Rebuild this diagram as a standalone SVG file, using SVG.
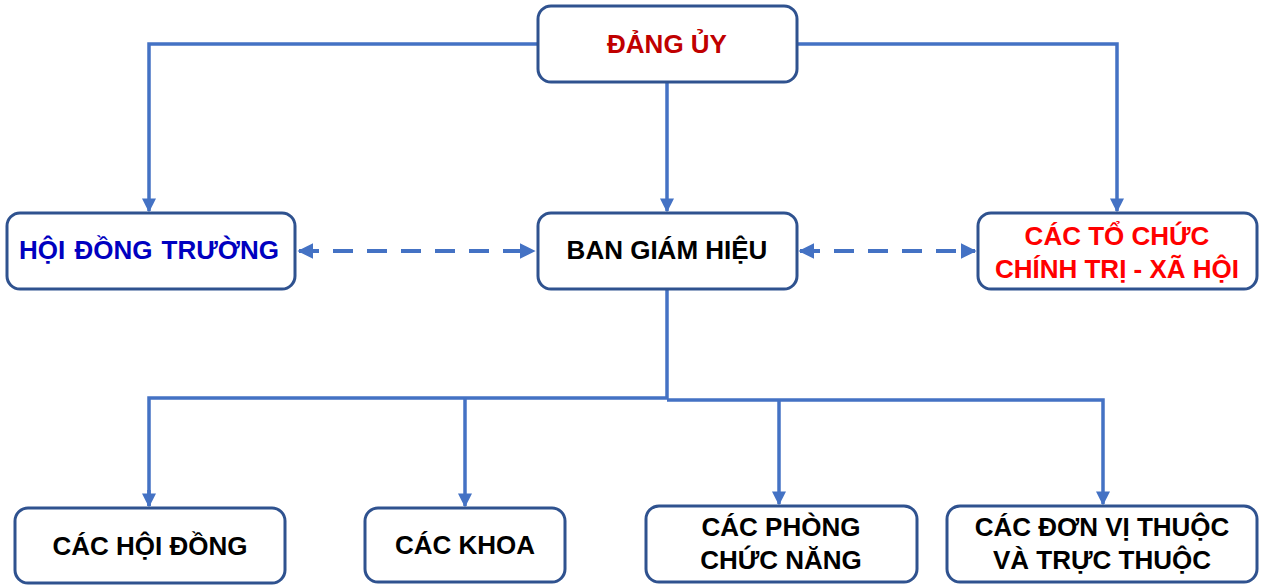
<svg xmlns="http://www.w3.org/2000/svg" width="1262" height="585" viewBox="0 0 1262 585">
<style>
.box{fill:#fff;stroke:#2F528F;stroke-width:3}
.t{font-family:"Liberation Sans",Arial,sans-serif;font-weight:bold;font-size:26px;text-anchor:middle;fill:#000}
.ln{fill:none;stroke:#4472C4;stroke-width:3.5}
.dash{fill:none;stroke:#4472C4;stroke-width:4;stroke-dasharray:20 14}
</style>
<defs>
<marker id="ah" viewBox="0 0 10 10" refX="9" refY="5" markerWidth="4" markerHeight="4" orient="auto-start-reverse">
<path d="M0,0 L10,5 L0,10 z" fill="#4472C4"/>
</marker>
</defs>
<g id="connectors">
<polyline class="ln" points="537,44 149,44 149,211" marker-end="url(#ah)"/>
<polyline class="ln" points="797,44 1117,44 1117,211" marker-end="url(#ah)"/>
<line class="ln" x1="667" y1="82" x2="667" y2="211" marker-end="url(#ah)"/>
<line class="dash" x1="299" y1="251" x2="534" y2="251" marker-start="url(#ah)" marker-end="url(#ah)"/>
<line class="dash" x1="800" y1="251" x2="975" y2="251" marker-start="url(#ah)" marker-end="url(#ah)"/>
<polyline class="ln" points="667,289 667,399"/>
<polyline class="ln" points="149,506 149,398 667,398"/>
<polyline class="ln" points="667,400 1103,400 1103,504" marker-end="url(#ah)"/>
<line class="ln" x1="149" y1="490" x2="149" y2="506" marker-end="url(#ah)"/>
<line class="ln" x1="465" y1="398" x2="465" y2="506" marker-end="url(#ah)"/>
<line class="ln" x1="779" y1="400" x2="779" y2="504" marker-end="url(#ah)"/>
</g>
<g id="dang-uy">
<rect class="box" x="538" y="6" width="259" height="76" rx="13"/>
<text class="t" x="667" y="53" style="fill:#C00000">ĐẢNG ỦY</text>
</g>
<g id="hoi-dong-truong">
<rect class="box" x="7" y="213" width="288" height="76" rx="13"/>
<text class="t" x="149" y="259" style="fill:#0000C0;word-spacing:2px">HỘI ĐỒNG TRƯỜNG</text>
</g>
<g id="ban-giam-hieu">
<rect class="box" x="538" y="213" width="259" height="76" rx="13"/>
<text class="t" x="667" y="259">BAN GIÁM HIỆU</text>
</g>
<g id="to-chuc">
<rect class="box" x="978" y="213" width="279" height="76" rx="13"/>
<text class="t" x="1117" y="245" style="fill:#FF0000">CÁC TỔ CHỨC</text>
<text class="t" x="1117" y="278" style="fill:#FF0000">CHÍNH TRỊ - XÃ HỘI</text>
</g>
<g id="cac-hoi-dong">
<rect class="box" x="15" y="508" width="270" height="75" rx="13"/>
<text class="t" x="150" y="555">CÁC HỘI ĐỒNG</text>
</g>
<g id="cac-khoa">
<rect class="box" x="365" y="508" width="200" height="74" rx="13"/>
<text class="t" x="465" y="554">CÁC KHOA</text>
</g>
<g id="cac-phong">
<rect class="box" x="646" y="506" width="271" height="76" rx="13"/>
<text class="t" x="781" y="536">CÁC PHÒNG</text>
<text class="t" x="781" y="569">CHỨC NĂNG</text>
</g>
<g id="cac-don-vi">
<rect class="box" x="947" y="506" width="310" height="76" rx="13"/>
<text class="t" x="1102" y="536">CÁC ĐƠN VỊ THUỘC</text>
<text class="t" x="1102" y="569">VÀ TRỰC THUỘC</text>
</g>
</svg>
